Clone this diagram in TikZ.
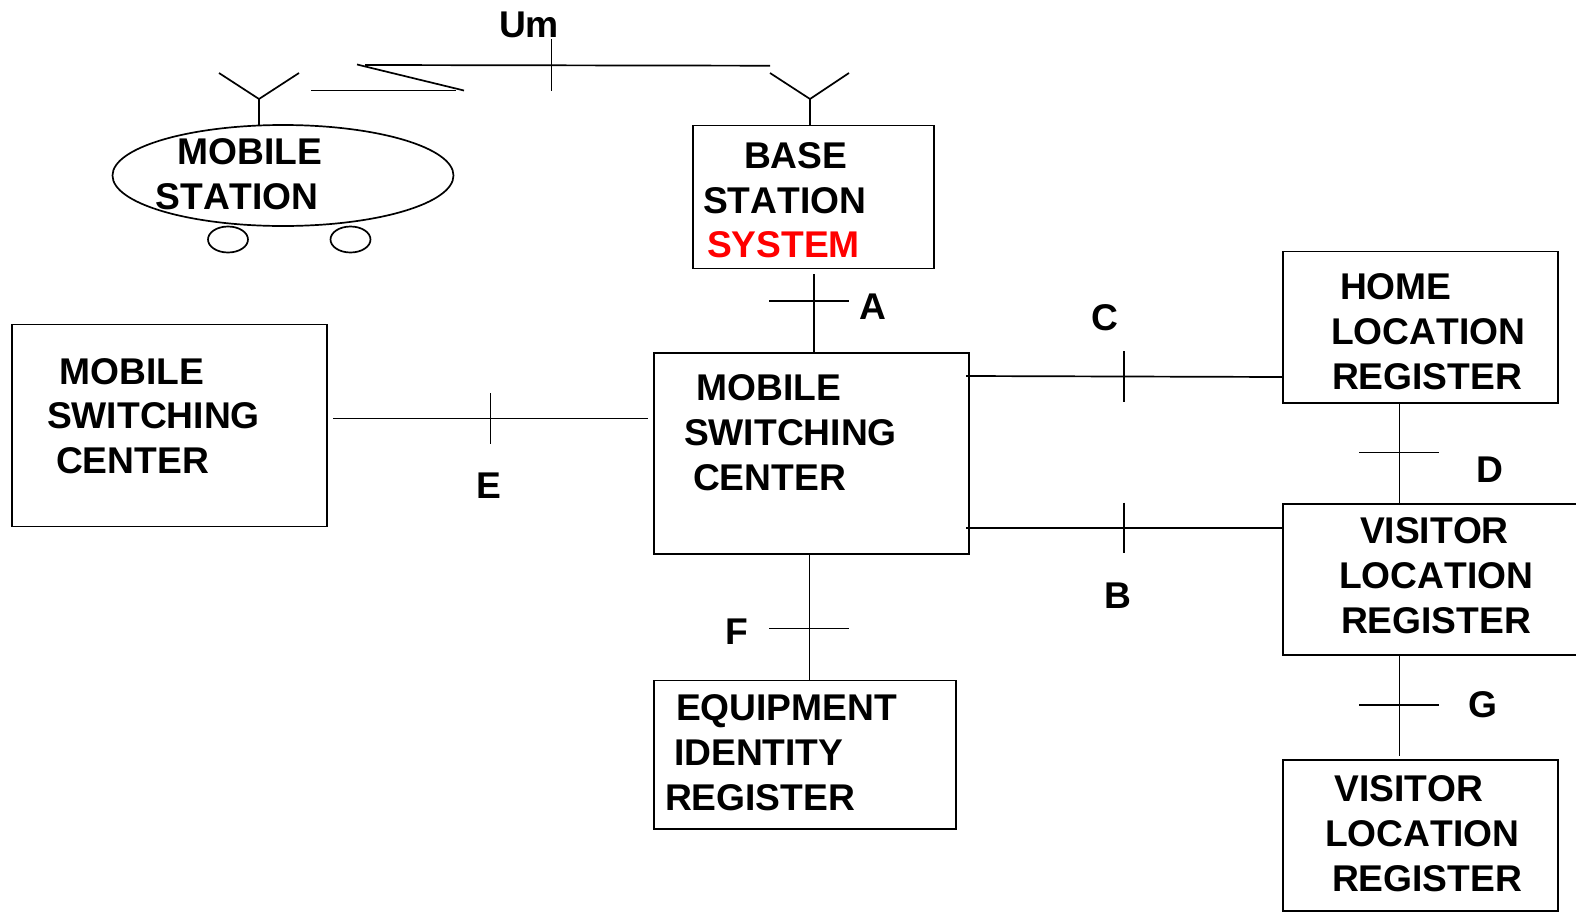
\documentclass[tikz,border=0pt]{standalone}
\usepackage{fontspec}
\setmainfont[Kerning=Off]{Liberation Sans}
\tikzset{
  every picture/.style={x=1pt,y=-1pt},
  wire/.style={line width=1.7pt,draw=black},
  boxn/.style={draw=black,line width=1.7pt,rectangle,inner sep=0pt,outer sep=0pt,fill=none},
  oval/.style={draw=black,line width=1.7pt,ellipse,inner sep=0pt,outer sep=0pt},
  txt/.style={anchor=base west,inner sep=0pt,outer sep=0pt,font=\fontsize{37.2}{40}\selectfont\bfseries,text=black},
  redtxt/.style={txt,text=sysred},
}
\definecolor{sysred}{RGB}{255,0,0}
\usetikzlibrary{shapes.geometric}
\newcommand{\bx}[5]{\node[boxn,minimum width=#4-#2,minimum height=#5-#3] (#1) at ({(#2+#4)/2},{(#3+#5)/2}) {};}
\newcommand{\tx}[4][txt]{\node[#1] (#2) at #3 {#4};}
\newcommand{\seg}[3]{\coordinate (#1a) at #2; \coordinate (#1b) at #3; \draw[wire] (#1a) -- (#1b);}
\begin{document}
\begin{tikzpicture}
\useasboundingbox (0,0) rectangle (1576,913);
% boxes
\bx{bss}{693}{125.5}{934}{268.5}
\bx{msc}{654}{353}{969}{554}
\bx{mscl}{12}{324.5}{327}{526.5}
\bx{eir}{654}{680.5}{956}{829}
\bx{hlr}{1283}{251.5}{1558}{403}
\bx{vlr}{1283}{504}{1582}{655}
\bx{vlrb}{1283}{760}{1558}{911}
\node[oval,minimum width=341pt,minimum height=101pt] (ms) at (283,175.5) {};
\node[oval,minimum width=40pt,minimum height=26pt] (wl) at (228,239.5) {};
\node[oval,minimum width=40pt,minimum height=26pt] (wr) at (350.5,239.5) {};
% antennas
\coordinate (msh) at (259,99);
\coordinate (msl) at (219,73);
\coordinate (msr) at (299,73);
\draw[wire] (ms.north -| msh) -- (msh);
\draw[wire] (msl) -- (msh) -- (msr);
\coordinate (bsh) at (810,99);
\coordinate (bsl) at (770,73);
\coordinate (bsr) at (849,73);
\draw[wire] (bss.north -| bsh) -- (bsh);
\draw[wire] (bsl) -- (bsh) -- (bsr);
% radio link
\coordinate (z1) at (311,90.5);
\coordinate (z2) at (456,90.5);
\coordinate (z3) at (464,90.5);
\coordinate (z4) at (357,64.5);
\coordinate (z5) at (365,65);
\coordinate (z6) at (770,65.7);
\draw[wire] (z1) -- (z2);
\draw[wire] (z3) -- (z4);
\draw[wire] (z5) -- (z6);
\seg{um}{(551.5,39)}{(551.5,91)}
% interfaces
\coordinate (ax) at (814,0);
\draw[wire] (814,274) coordinate (at) -- (msc.north -| ax);
\seg{ta}{(769,300.8)}{(849,300.8)}
\coordinate (cy) at (0,377);
\coordinate (cs) at (966,376);
\draw[wire] (cs) -- (hlr.west |- cy);
\seg{tc}{(1124,351)}{(1124,402)}
\coordinate (by) at (0,527.7);
\coordinate (bs) at (966,527.7);
\draw[wire] (bs) -- (vlr.west |- by);
\seg{tb}{(1124,502.5)}{(1124,553)}
\coordinate (dx) at (1399.5,0);
\draw[wire] (hlr.south -| dx) -- (vlr.north -| dx);
\seg{td}{(1359,452.5)}{(1439,452.5)}
\coordinate (gx) at (1399.5,0);
\coordinate (ge) at (1399.5,756);
\draw[wire] (vlr.south -| gx) -- (ge);
\seg{tg}{(1359,705)}{(1439,705)}
\seg{e}{(333,418.5)}{(648,418.5)}
\seg{te}{(490.5,393)}{(490.5,444)}
\coordinate (fx) at (809.5,0);
\draw[wire] (msc.south -| fx) -- (eir.north -| fx);
\seg{tf}{(769,628.5)}{(849,628.5)}
% text
\tx{t1}{(177.5,164)}{MOBILE}
\tx{t2}{(155.5,209)}{STATION}
\tx{t3}{(744,168)}{BASE}
\tx{t4}{(703,213)}{STATION}
\tx[redtxt]{t5}{(707,257)}{SYSTEM}
\tx{t6}{(59.5,384)}{MOBILE}
\tx{t7}{(47,428)}{SWITCHING}
\tx{t8}{(56,473)}{CENTER}
\tx{t9}{(696.5,400)}{MOBILE}
\tx{t10}{(684,445)}{SWITCHING}
\tx{t11}{(693,490)}{CENTER}
\tx{t12}{(676,720)}{EQUIPMENT}
\tx{t13}{(674,765)}{IDENTITY}
\tx{t14}{(665,810)}{REGISTER}
\tx{t15}{(1340,299)}{HOME}
\tx{t16}{(1331,344)}{LOCATION}
\tx{t17}{(1332,389)}{REGISTER}
\tx{t18}{(1360,543)}{VISITOR}
\tx{t19}{(1339,588)}{LOCATION}
\tx{t20}{(1341,633)}{REGISTER}
\tx{t21}{(1334.5,801)}{VISITOR}
\tx{t22}{(1325,846)}{LOCATION}
\tx{t23}{(1332,891)}{REGISTER}
\tx{l0}{(499,37)}{Um}
\tx{la}{(859,319)}{A}
\tx{lc}{(1091,330)}{C}
\tx{ld}{(1476,482)}{D}
\tx{le}{(476,498)}{E}
\tx{lb}{(1104,608)}{B}
\tx{lf}{(725,644)}{F}
\tx{lg}{(1468,717)}{G}
\end{tikzpicture}
\end{document}
